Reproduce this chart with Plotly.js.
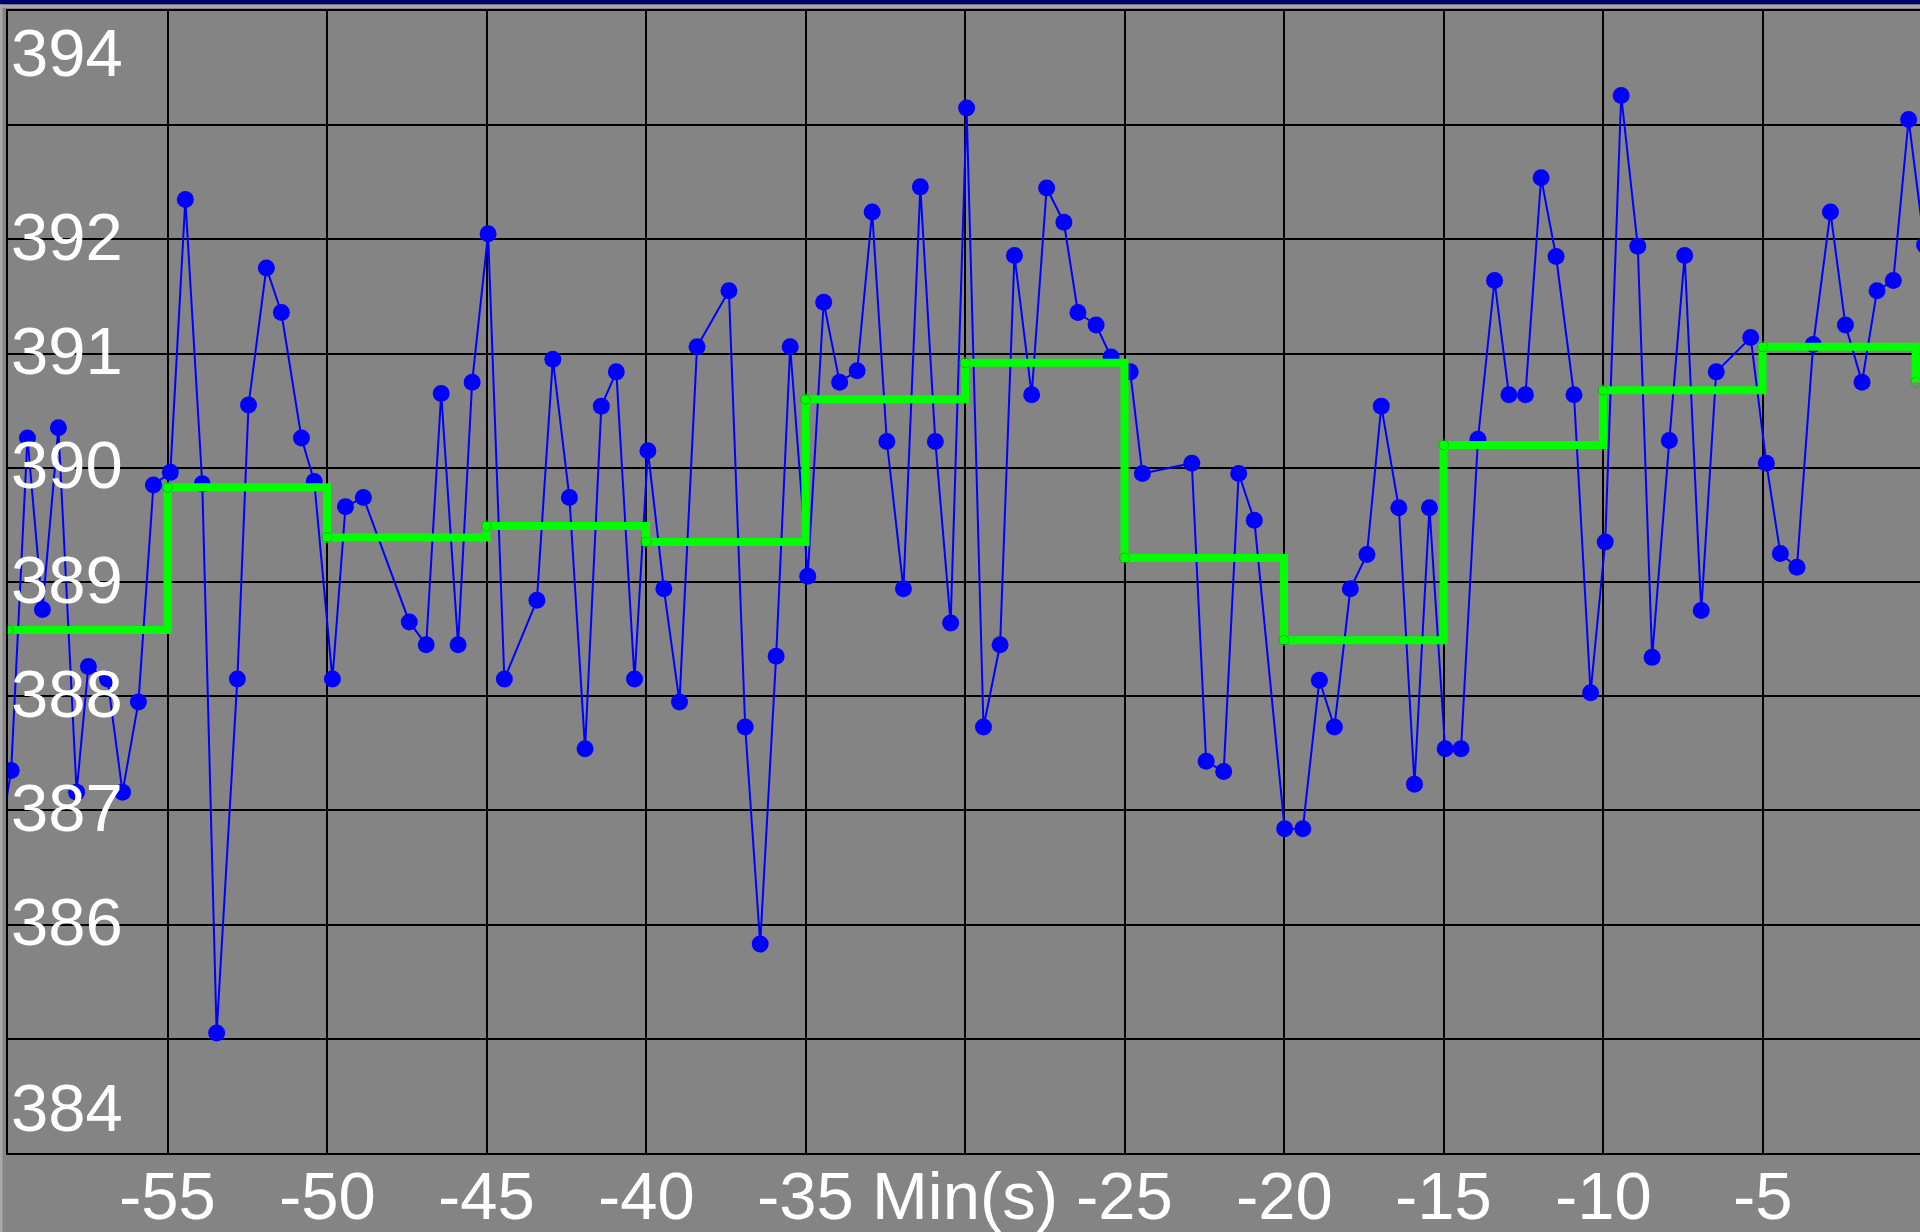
<!DOCTYPE html>
<html>
<head>
<meta charset="utf-8">
<script src="https://cdn.plot.ly/plotly-3.0.1.min.js"></script>
<style>
  html, body { margin: 0; padding: 0; overflow: hidden; background: #848484; width: 1920px; height: 1232px; }
  #chart { width: 1922px; height: 1232px; }
</style>
</head>
<body>
<div id="chart"></div>
<script>
// ---- data (minutes relative to now, reading) ----
const sampleMinutes = [
  -60.40, -59.90, -59.39, -58.92, -58.42, -57.85, -57.48, -56.88, -56.41, -55.91, -55.44,
  -54.91, -54.44, -53.91, -53.46, -52.81, -52.46, -51.90, -51.43, -50.80, -50.40,
  -49.83, -49.42, -48.86, -47.42, -46.89, -46.42, -45.89, -45.45, -44.95,
  -44.44, -43.42, -42.92, -42.40, -41.91, -41.40, -40.93, -40.36, -39.94,
  -39.44, -38.95, -38.40, -37.40, -36.89, -36.42, -35.92, -35.48, -34.93,
  -34.43, -33.93, -33.38, -32.91, -32.45, -31.93, -31.40, -30.93, -30.45, -29.95,
  -29.42, -28.90, -28.45, -27.91, -27.44, -26.90, -26.46, -25.89, -25.42, -24.82,
  -24.44, -22.89, -22.44, -21.89, -21.42, -20.93, -19.98, -19.41, -18.89, -18.42,
  -17.92, -17.40, -16.95, -16.40, -15.91, -15.44, -14.95,
  -14.45, -13.92, -13.40, -12.95, -12.43, -11.94, -11.47, -10.91, -10.39, -9.93,
  -9.43, -8.91, -8.46, -7.92, -7.44, -6.92, -6.45, -5.37, -4.88, -4.44, -3.92,
  -3.41, -2.87, -2.40, -1.88, -1.41, -0.90, -0.42, 0.08
];
const sampleValues = [
  386.50, 387.35, 390.26, 388.76, 390.35, 387.16, 388.26, 388.15, 387.16, 387.95, 389.85,
  389.96, 392.35, 389.86, 385.05, 388.15, 390.55, 391.75, 391.36, 390.26, 389.88,
  388.15, 389.66, 389.74, 388.65, 388.45, 390.65, 388.45, 390.75, 392.05,
  388.15, 388.84, 390.95, 389.74, 387.54, 390.54, 390.84, 388.15, 390.15,
  388.94, 387.95, 391.06, 391.55, 387.73, 385.83, 388.35, 391.06, 389.05,
  391.45, 390.75, 390.85, 392.24, 390.23, 388.94, 392.46, 390.23, 388.64, 393.15,
  387.73, 388.45, 391.86, 390.64, 392.45, 392.15, 391.36, 391.25, 390.97, 390.84,
  389.95, 390.04, 387.43, 387.34, 389.95, 389.54, 386.84, 386.84, 388.14, 387.73,
  388.94, 389.24, 390.54, 389.65, 387.23, 389.65, 387.54,
  387.54, 390.25, 391.64, 390.64, 390.64, 392.54, 391.85, 390.64, 388.03, 389.35,
  393.26, 391.94, 388.34, 390.24, 391.86, 388.75, 390.84, 391.14, 390.04, 389.25, 389.13,
  391.08, 392.24, 391.25, 390.75, 391.55, 391.64, 393.05, 391.95
];
const averageMinutes = [-60, -55, -50, -45, -40, -35, -30, -25, -20, -15, -10, -5, -0.2];
const averageValues  = [388.58, 389.83, 389.39, 389.49, 389.35, 390.60, 390.92, 389.21, 388.49, 390.20, 390.68, 391.06, 390.75];

const xTickValues = [-55, -50, -45, -40, -35, -30, -25, -20, -15, -10, -5];
const xTickLabels = ['-55', '-50', '-45', '-40', '-35', 'Min(s)', '-25', '-20', '-15', '-10', '-5'];
const yLabelValues = [394, 392, 391, 390, 389, 388, 387, 386, 384];

// ---- layout constants ----
const FONT = '"Liberation Sans", Arial, sans-serif';
const FS = 67;
const yMin = 384, yMax = 394;
const mL = 8, mT = 11, mB = 79, W = 1922, H = 1232;
const plotW = W - mL, plotH = H - mT - mB;

const labelFont = { family: FONT, size: FS, color: '#ffffff' };

const yAnnotations = yLabelValues.map(v => {
  let anchor = 'middle', shift = 3;
  if (v === yMax) { anchor = 'top'; shift = -2; }
  if (v === yMin) { anchor = 'bottom'; shift = 6; }
  return {
    xref: 'paper', yref: 'y', x: 0, y: v, xanchor: 'left', yanchor: anchor,
    xshift: 1, yshift: shift, showarrow: false, text: String(v), font: labelFont
  };
});

const xAnnotations = xTickValues.map((v, i) => ({
  xref: 'x', yref: 'paper', x: v, y: 0, xanchor: 'center', yanchor: 'top',
  yshift: -3, showarrow: false, text: xTickLabels[i], font: labelFont
}));

const px2py = p => (mT + plotH - p) / plotH; // pixel y -> paper y
const px2px = p => (p - mL) / plotW;          // pixel x -> paper x

const shapes = [
  { type: 'rect', xref: 'paper', yref: 'paper', x0: px2px(0), x1: px2px(W), y0: px2py(4.5), y1: px2py(0), fillcolor: '#00006b', line: { width: 0 }, layer: 'above' },
  { type: 'rect', xref: 'paper', yref: 'paper', x0: px2px(0), x1: px2px(W), y0: px2py(8), y1: px2py(4.5), fillcolor: '#a8a8a8', line: { width: 0 }, layer: 'above' },
  { type: 'rect', xref: 'paper', yref: 'paper', x0: px2px(0), x1: px2px(2.5), y0: px2py(H), y1: px2py(4.5), fillcolor: '#a8a8a8', line: { width: 0 }, layer: 'above' }
];

const traces = [
  {
    type: 'scatter', mode: 'lines+markers', x: sampleMinutes, y: sampleValues,
    line: { color: '#0000ff', width: 2 },
    marker: { color: '#0000ff', size: 17, symbol: 'circle', line: { width: 0 } },
    hoverinfo: 'skip'
  },
  {
    type: 'scatter', mode: 'lines+markers', x: averageMinutes, y: averageValues,
    line: { color: '#00ff00', width: 8, shape: 'hv' },
    marker: { color: '#00c000', size: 10, symbol: 'circle-open', line: { width: 1 } },
    hoverinfo: 'skip'
  }
];

const layout = {
  width: W, height: H,
  margin: { l: mL, r: 0, t: mT, b: mB, pad: 0 },
  paper_bgcolor: '#848484', plot_bgcolor: '#848484',
  showlegend: false,
  font: labelFont,
  xaxis: {
    range: [-60, 0], tickvals: xTickValues,
    showgrid: true, gridcolor: '#000000', gridwidth: 2, zeroline: false,
    showline: true, linecolor: '#000000', linewidth: 2, mirror: true,
    ticks: '', showticklabels: false
  },
  yaxis: {
    range: [yMin, yMax], dtick: 1, tick0: 384,
    showgrid: true, gridcolor: '#000000', gridwidth: 2, zeroline: false,
    showline: true, linecolor: '#000000', linewidth: 2, mirror: true,
    showticklabels: false, ticks: ''
  },
  annotations: yAnnotations.concat(xAnnotations),
  shapes: shapes
};

Plotly.newPlot('chart', traces, layout, { displayModeBar: false, staticPlot: true });
</script>
</body>
</html>
